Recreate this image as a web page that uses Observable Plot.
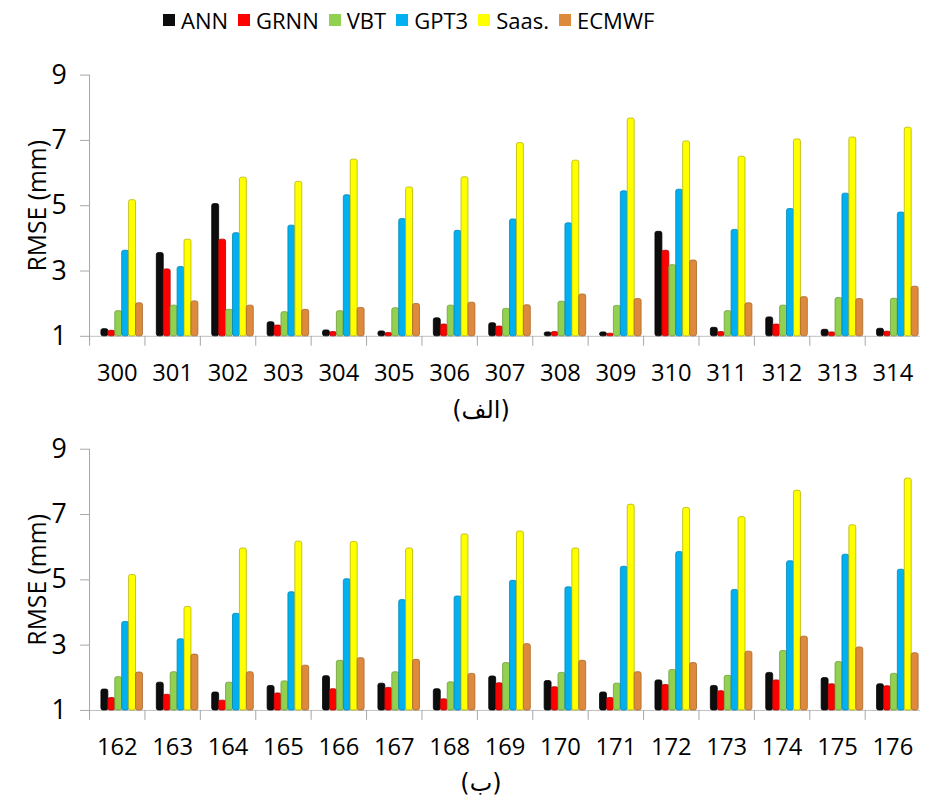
<!DOCTYPE html>
<html><head><meta charset="utf-8">
<script src="https://cdn.jsdelivr.net/npm/d3@7"></script>
<script src="https://cdn.jsdelivr.net/npm/@observablehq/plot@0.6"></script>
<style>
html,body{margin:0;padding:0;background:#fff;overflow:hidden;width:930px;height:802px;}
body{font-family:"Open Sans",sans-serif;color:#000;}
#legend{height:40px;display:flex;align-items:center;padding-left:163px;font-size:22px;box-sizing:border-box;}
.item{display:flex;align-items:center;margin-right:10px;}
.sw{width:12px;height:12px;margin-right:6px;}
.cap{width:962px;text-align:center;font-family:"DejaVu Sans",sans-serif;font-size:24px;box-sizing:border-box;}
svg{display:block;overflow:hidden;}
</style>
</head><body>
<div id="legend"></div>
<div id="chartA"></div>
<div class="cap" dir="rtl" style="height:39px;padding-top:7px;line-height:32px;">(الف)</div>
<div id="chartB"></div>
<div class="cap" dir="rtl" style="height:33px;padding-top:9px;line-height:24px;">(ب)</div>
<script>
const series = ["ANN", "GRNN", "VBT", "GPT3", "Saas.", "ECMWF"];
const fills = ["#0d0d0d", "#ff0000", "#92d050", "#00b0f0", "#ffff00", "#dd8a3e"];
const strokes = ["#000000", "#b00000", "#6f9c3a", "#0087b8", "#b5b500", "#a9652a"];
const yTicks = [1, 3, 5, 7, 9];
const yLabel = "RMSE (mm)";

// panel (الف)
const catsA = [300, 301, 302, 303, 304, 305, 306, 307, 308, 309, 310, 311, 312, 313, 314];
const annA   = [1.22, 3.55, 5.05, 1.43, 1.18, 1.15, 1.55, 1.40, 1.12, 1.12, 4.20, 1.26, 1.58, 1.20, 1.23];
const grnnA  = [1.17, 3.05, 3.96, 1.33, 1.13, 1.10, 1.36, 1.30, 1.13, 1.08, 3.62, 1.13, 1.36, 1.12, 1.14];
const vbtA   = [1.77, 1.94, 1.81, 1.74, 1.77, 1.86, 1.94, 1.84, 2.06, 1.93, 3.18, 1.77, 1.94, 2.17, 2.15];
const gpt3A  = [3.62, 3.12, 4.16, 4.39, 5.32, 4.59, 4.23, 4.58, 4.46, 5.44, 5.49, 4.26, 4.90, 5.37, 4.79];
const saasA  = [5.17, 3.96, 5.86, 5.73, 6.41, 5.56, 5.87, 6.92, 6.38, 7.67, 6.97, 6.50, 7.03, 7.09, 7.39];
const ecmwfA = [2.01, 2.07, 1.94, 1.81, 1.87, 1.99, 2.03, 1.95, 2.28, 2.14, 3.32, 2.01, 2.20, 2.14, 2.52];

// panel (ب)
const catsB = [162, 163, 164, 165, 166, 167, 168, 169, 170, 171, 172, 173, 174, 175, 176];
const annB   = [1.64, 1.85, 1.55, 1.75, 2.05, 1.82, 1.65, 2.04, 1.90, 1.55, 1.92, 1.75, 2.15, 1.99, 1.80];
const grnnB  = [1.38, 1.48, 1.30, 1.52, 1.65, 1.69, 1.34, 1.83, 1.71, 1.38, 1.78, 1.59, 1.92, 1.80, 1.74];
const vbtB   = [2.02, 2.17, 1.85, 1.89, 2.52, 2.17, 1.86, 2.45, 2.15, 1.82, 2.24, 2.06, 2.82, 2.48, 2.12];
const gpt3B  = [3.71, 3.18, 3.96, 4.62, 5.02, 4.38, 4.49, 4.97, 4.77, 5.40, 5.85, 4.69, 5.57, 5.77, 5.31];
const saasB  = [5.15, 4.17, 5.96, 6.17, 6.16, 5.96, 6.39, 6.48, 5.96, 7.30, 7.20, 6.92, 7.73, 6.67, 8.10];
const ecmwfB = [2.16, 2.71, 2.17, 2.37, 2.60, 2.55, 2.12, 3.03, 2.52, 2.17, 2.45, 2.80, 3.26, 2.93, 2.75];

// legend
const legend = document.getElementById("legend");
series.forEach((s, i) => {
  const it = document.createElement("div");
  it.className = "item";
  const sw = document.createElement("span");
  sw.className = "sw";
  sw.style.background = fills[i];
  const t = document.createElement("span");
  t.textContent = s;
  it.appendChild(sw); it.appendChild(t);
  legend.appendChild(it);
});

function chart(cats, vals, marginTop) {
  const rows = [];
  series.forEach((s, i) => cats.forEach((c, j) => rows.push({cat: c, series: s, value: vals[i][j]})));
  const inner = 264, mb = 52;
  return Plot.plot({
    width: 940,
    height: marginTop + inner + mb,
    marginTop, marginBottom: mb, marginLeft: 84, marginRight: 4,
    style: {fontFamily: "Open Sans", color: "#000", background: "#fff"},
    fx: {domain: cats, padding: 0},
    x: {domain: series, paddingInner: 0, paddingOuter: 0.72, align: 0.86, axis: null},
    y: {domain: [1, 9]},
    color: {domain: series, range: fills},
    marks: [
      Plot.ruleY([1], {stroke: "#bfbfbf", strokeWidth: 1}),
      Plot.frame({anchor: "left", stroke: "#a6a6a6", insetTop: inner, insetBottom: -9}),
      ...series.map((s, i) => Plot.barY(rows.filter(r => r.series === s), {
        fx: "cat", x: "series", y1: 1, y2: "value",
        fill: "series", stroke: strokes[i], strokeWidth: 0.8, rx: 2
      })),
      Plot.axisFx({anchor: "bottom", tickSize: 0, tickPadding: 28, fontSize: 24, label: null}),
      Plot.axisY({ticks: yTicks, tickSize: 9, tickPadding: 14, fontSize: 27, label: null, stroke: "#a6a6a6"}),
      Plot.axisY({ticks: [], label: yLabel, labelAnchor: "center", labelOffset: 62, labelArrow: "none", fontSize: 25}),
      Plot.frame({anchor: "left", facetAnchor: "left", stroke: "#a6a6a6", insetBottom: -4})
    ]
  });
}

document.getElementById("chartA").appendChild(chart(catsA, [annA, grnnA, vbtA, gpt3A, saasA, ecmwfA], 35));
document.getElementById("chartB").appendChild(chart(catsB, [annB, grnnB, vbtB, gpt3B, saasB, ecmwfB], 23));
</script>
</body></html>
